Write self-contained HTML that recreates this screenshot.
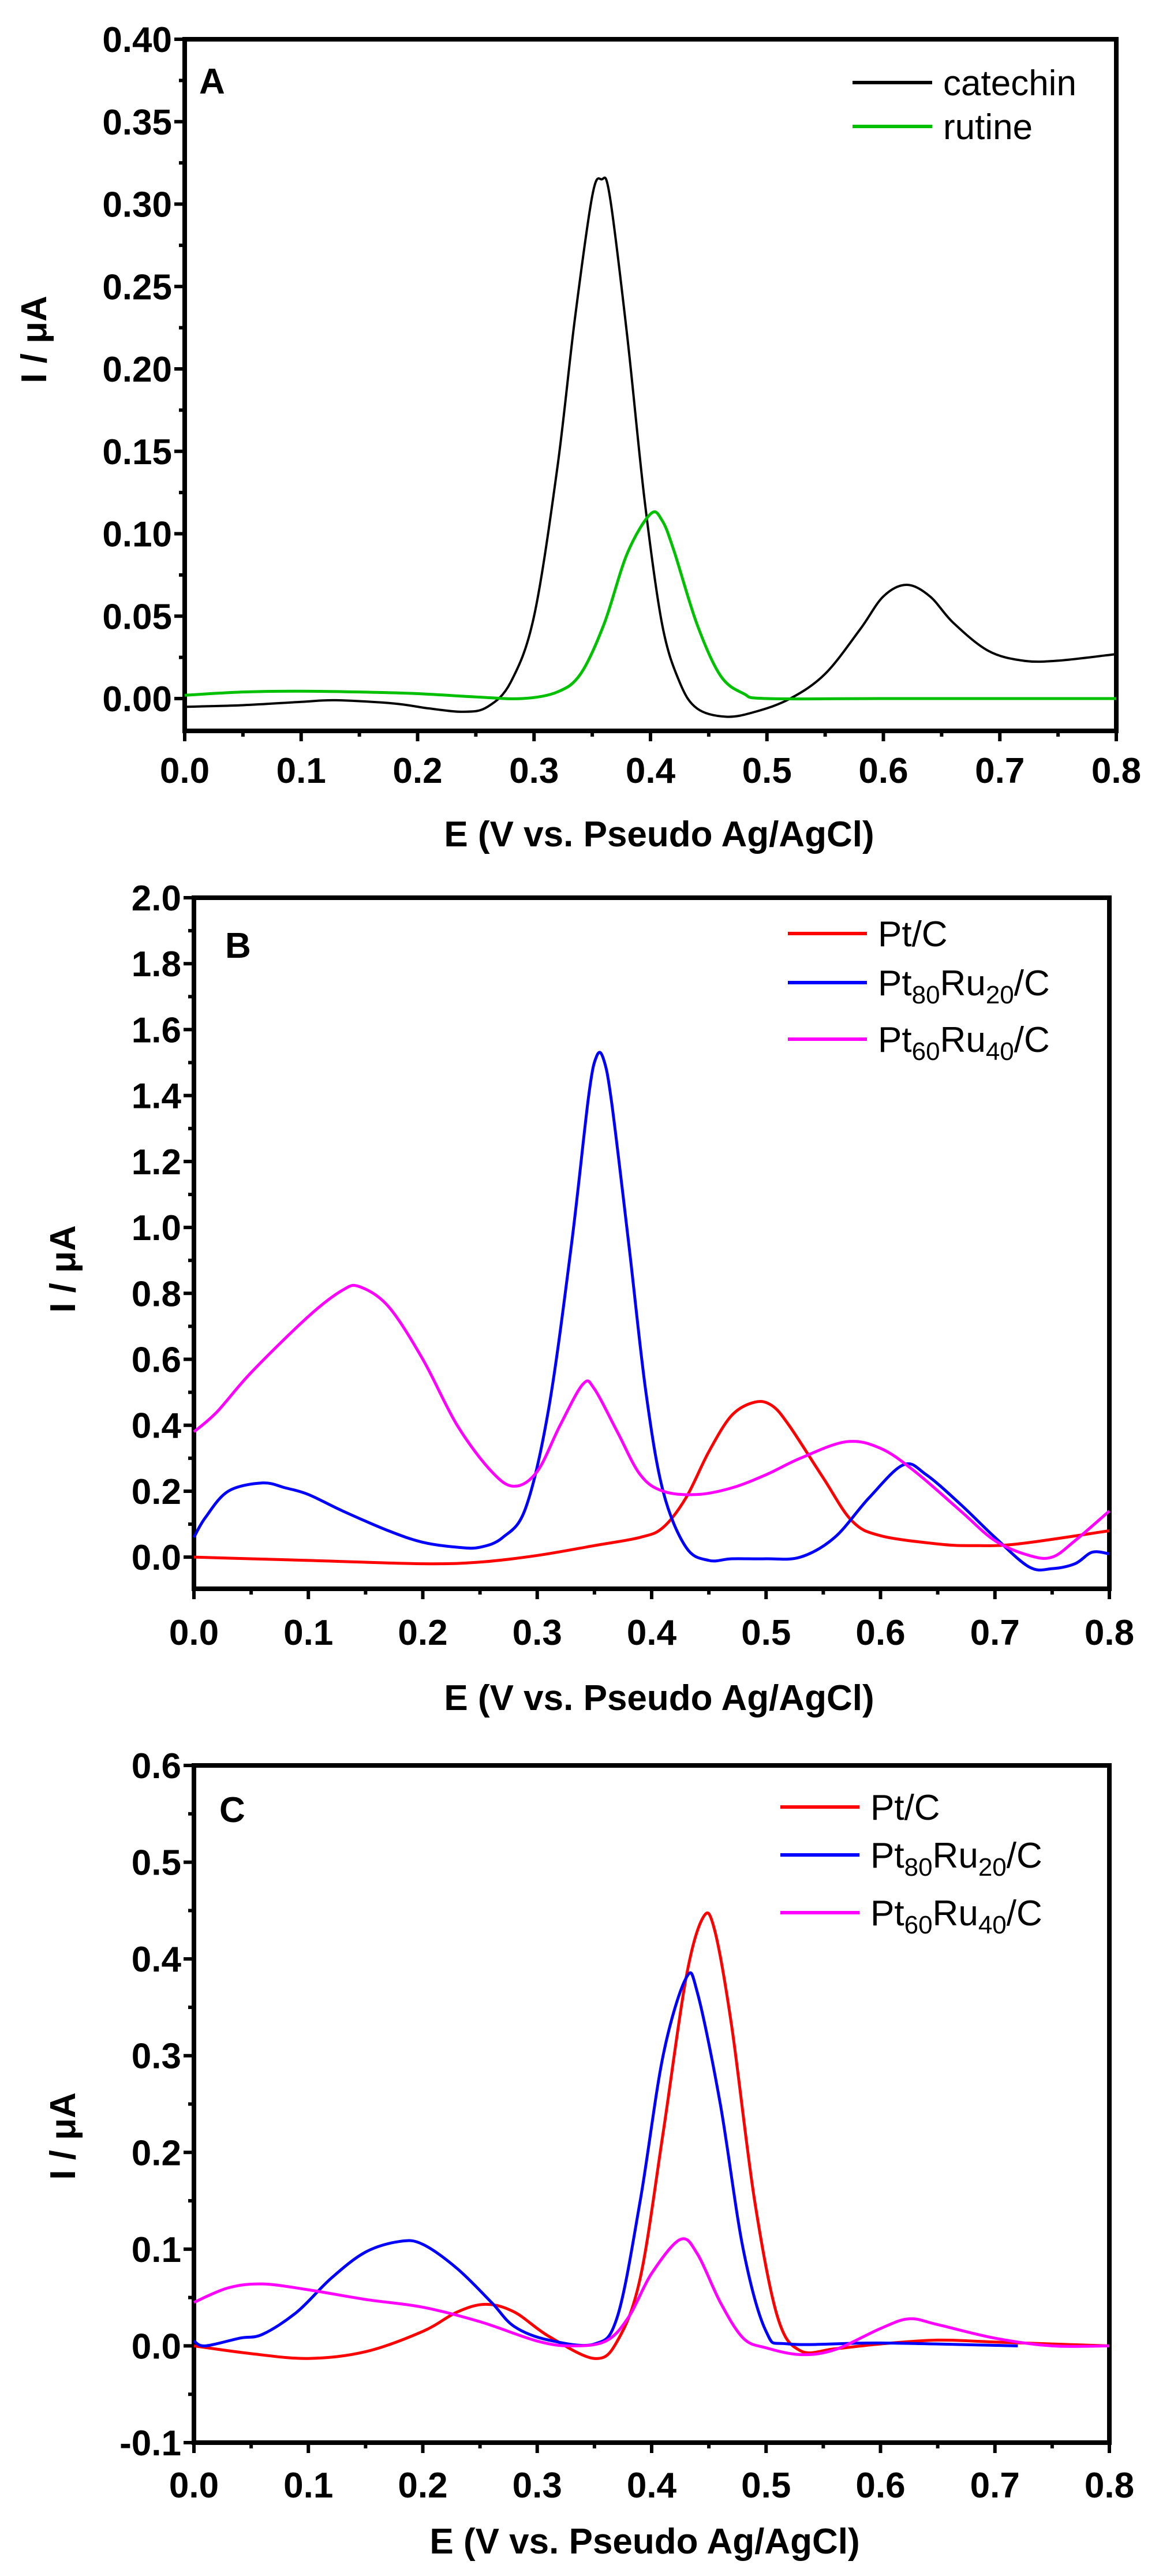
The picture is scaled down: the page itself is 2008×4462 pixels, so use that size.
<!DOCTYPE html>
<html><head><meta charset="utf-8"><style>
html,body{margin:0;padding:0;background:#fff;}
svg{display:block;}
text{font-family:"Liberation Sans",sans-serif;}
</style></head><body>
<svg id="s" width="2008" height="4462" xmlns="http://www.w3.org/2000/svg"></svg>
<script>
const S=document.getElementById('s');let h='';
function panel(o){
 const {L,R,T,B,ymin,ymax,ystep,ydec,y0tick}=o;
 const X=v=>L+(v/0.8)*(R-L), Y=v=>B-(v-ymin)/(ymax-ymin)*(B-T);
 o.X=X;o.Y=Y;
 // ticks
 for(let i=0;i<=16;i++){const x=X(i*0.05);const len=i%2?10:18;h+=`<line x1="${x}" y1="${B}" x2="${x}" y2="${B+len}" stroke="#000" stroke-width="6"/>`;
  if(i%2==0)h+=`<text x="${x}" y="${o.xl}" font-size="62" font-weight="bold" text-anchor="middle">${(i*0.05).toFixed(1)}</text>`;}
 const n=Math.round((ymax-y0tick)/(ystep/2));
 for(let i=0;i<=n;i++){const v=y0tick+i*ystep/2;const y=Y(v);const len=i%2?10:18;h+=`<line x1="${L}" y1="${y}" x2="${L-len}" y2="${y}" stroke="#000" stroke-width="6"/>`;
  if(i%2==0)h+=`<text x="${L-22}" y="${y+22}" font-size="62" font-weight="bold" text-anchor="end">${v.toFixed(ydec)}</text>`;}
 h+=`<rect x="${L}" y="${T}" width="${R-L}" height="${B-T}" fill="none" stroke="#000" stroke-width="8"/>`;
 h+=`<text x="${o.xtx}" y="${o.xty}" font-size="62" font-weight="bold" text-anchor="middle">E (V vs. Pseudo Ag/AgCl)</text>`;
 h+=`<text transform="translate(${o.ylx},${o.yly}) rotate(-90)" font-size="62" font-weight="bold" text-anchor="middle">I / μA</text>`;
 h+=`<text x="${o.lbx}" y="${o.lby+22}" font-size="62" font-weight="bold">${o.lab}</text>`;
}
function curve(o,pts,col,w){
 const p=pts.map(a=>[o.X(a[0]),o.Y(a[1])]);let d=`M${p[0][0]},${p[0][1]}`;
 for(let i=0;i<p.length-1;i++){const p0=p[Math.max(0,i-1)],p1=p[i],p2=p[i+1],p3=p[Math.min(p.length-1,i+2)];
  d+=` C${p1[0]+(p2[0]-p0[0])/6},${p1[1]+(p2[1]-p0[1])/6} ${p2[0]-(p3[0]-p1[0])/6},${p2[1]-(p3[1]-p1[1])/6} ${p2[0]},${p2[1]}`;}
 h+=`<path d="${d}" fill="none" stroke="${col}" stroke-width="${w}" stroke-linejoin="round"/>`;
}
function leg(x1,x2,tx,y,col,label){h+=`<line x1="${x1}" y1="${y}" x2="${x2}" y2="${y}" stroke="${col}" stroke-width="6"/><text x="${tx}" y="${y+22}" font-size="62">${label}</text>`;}
const sub=s=>`<tspan font-size="44" dy="14">${s}</tspan><tspan dy="-14">`;
const lp=(a,b)=>`Pt${sub(a)}Ru</tspan>${sub(b)}/C</tspan>`;

const A={L:320,R:1934,T:68,B:1266,ymin:-0.0196,ymax:0.40,ystep:0.05,ydec:2,y0tick:0,xl:1356,xtx:1142,xty:1466,ylx:80,yly:588,lbx:345,lby:140,lab:'A'};
panel(A);
curve(A,[[0,-.005],[.05,-.004],[.1,-.002],[.13,-.001],[.18,-.003],[.21,-.006],[.24,-.008],[.26,-.005],[.28,.01],[.30,.05],[.32,.14],[.335,.23],[.35,.305],[.358,.315],[.365,.305],[.38,.22],[.395,.12],[.41,.045],[.425,.01],[.44,-.006],[.465,-.011],[.49,-.008],[.52,0],[.55,.015],[.58,.042],[.60,.062],[.62,.069],[.64,.062],[.66,.046],[.69,.029],[.72,.023],[.75,.023],[.8,.027]],'#000',4);
curve(A,[[0,.002],[.05,.004],[.1,.0045],[.15,.004],[.2,.003],[.25,.001],[.29,0],[.32,.004],[.34,.015],[.36,.045],[.38,.088],[.40,.112],[.41,.108],[.42,.09],[.44,.045],[.46,.014],[.48,.003],[.5,0],[.6,0],[.8,0]],'#00c000',5);
leg(1477,1615,1634,143,'#000','catechin');leg(1477,1615,1634,219,'#00c000','rutine');

const Bp={L:336,R:1922,T:1555,B:2752,ymin:-0.096,ymax:2.0,ystep:0.2,ydec:1,y0tick:0,xl:2849,xtx:1142,xty:2962,ylx:130,yly:2198,lbx:390,lby:1637,lab:'B'};
panel(Bp);
curve(Bp,[[0,0],[.1,-.01],[.2,-.02],[.25,-.015],[.3,.005],[.35,.035],[.39,.06],[.41,.09],[.43,.18],[.45,.32],[.47,.43],[.49,.47],[.505,.46],[.52,.40],[.55,.24],[.575,.11],[.6,.065],[.65,.04],[.68,.035],[.72,.04],[.8,.08]],'#f00',5);
curve(Bp,[[0,.06],[.01,.12],[.03,.2],[.06,.225],[.08,.21],[.1,.19],[.13,.14],[.17,.08],[.2,.045],[.23,.03],[.25,.03],[.27,.06],[.29,.15],[.31,.45],[.33,.95],[.345,1.4],[.352,1.52],[.358,1.51],[.365,1.38],[.38,.95],[.395,.5],[.41,.2],[.43,.03],[.45,-.01],[.47,-.005],[.5,-.005],[.53,0],[.56,.06],[.59,.18],[.62,.28],[.64,.25],[.67,.16],[.7,.06],[.73,-.03],[.75,-.035],[.77,-.02],[.785,.015],[.8,.01]],'#00f',5);
curve(Bp,[[0,.38],[.02,.44],[.05,.56],[.1,.73],[.13,.81],[.145,.82],[.17,.76],[.2,.6],[.23,.4],[.26,.26],[.28,.215],[.3,.26],[.32,.4],[.34,.525],[.35,.51],[.37,.38],[.39,.25],[.41,.2],[.44,.19],[.47,.21],[.5,.25],[.53,.3],[.57,.35],[.6,.33],[.63,.26],[.67,.14],[.7,.05],[.73,.005],[.75,0],[.77,.05],[.8,.14]],'#f0f',5);
leg(1365,1502,1521,1617,'#f00','Pt/C');leg(1365,1502,1521,1702,'#00f',lp('80','20'));leg(1365,1502,1521,1800,'#f0f',lp('60','40'));

const C={L:336,R:1922,T:3058,B:4231,ymin:-0.1,ymax:0.6,ystep:0.1,ydec:1,y0tick:-0.1,xl:4326,xtx:1117,xty:4423,ylx:130,yly:3700,lbx:380,lby:3134,lab:'C'};
panel(C);
curve(C,[[0,0],[.05,-.008],[.1,-.013],[.15,-.006],[.2,.015],[.23,.035],[.255,.043],[.28,.035],[.31,.01],[.35,-.013],[.37,.005],[.39,.07],[.41,.22],[.43,.38],[.445,.443],[.455,.43],[.47,.33],[.49,.15],[.51,.03],[.53,-.005],[.56,-.003],[.6,.002],[.65,.006],[.7,.004],[.8,0]],'#f00',5);
curve(C,[[0,.005],[.01,0],[.04,.008],[.06,.012],[.09,.035],[.12,.07],[.15,.097],[.18,.108],[.2,.105],[.23,.08],[.26,.045],[.28,.02],[.31,.006],[.35,.002],[.37,.03],[.39,.15],[.41,.3],[.43,.38],[.44,.365],[.46,.25],[.48,.1],[.5,.015],[.52,.002],[.6,.003],[.72,0]],'#00f',5);
curve(C,[[0,.045],[.03,.06],[.06,.064],[.1,.058],[.15,.048],[.2,.04],[.25,.025],[.3,.005],[.33,0],[.36,.005],[.38,.03],[.4,.075],[.425,.11],[.44,.095],[.46,.045],[.48,.008],[.5,-.002],[.53,-.009],[.56,-.004],[.6,.018],[.625,.028],[.65,.022],[.7,.008],[.75,0],[.8,0]],'#f0f',5);
leg(1352,1489,1508,3130,'#f00','Pt/C');leg(1352,1489,1508,3213,'#00f',lp('80','20'));leg(1352,1489,1508,3313,'#f0f',lp('60','40'));
S.innerHTML=h;
</script>
</body></html>
